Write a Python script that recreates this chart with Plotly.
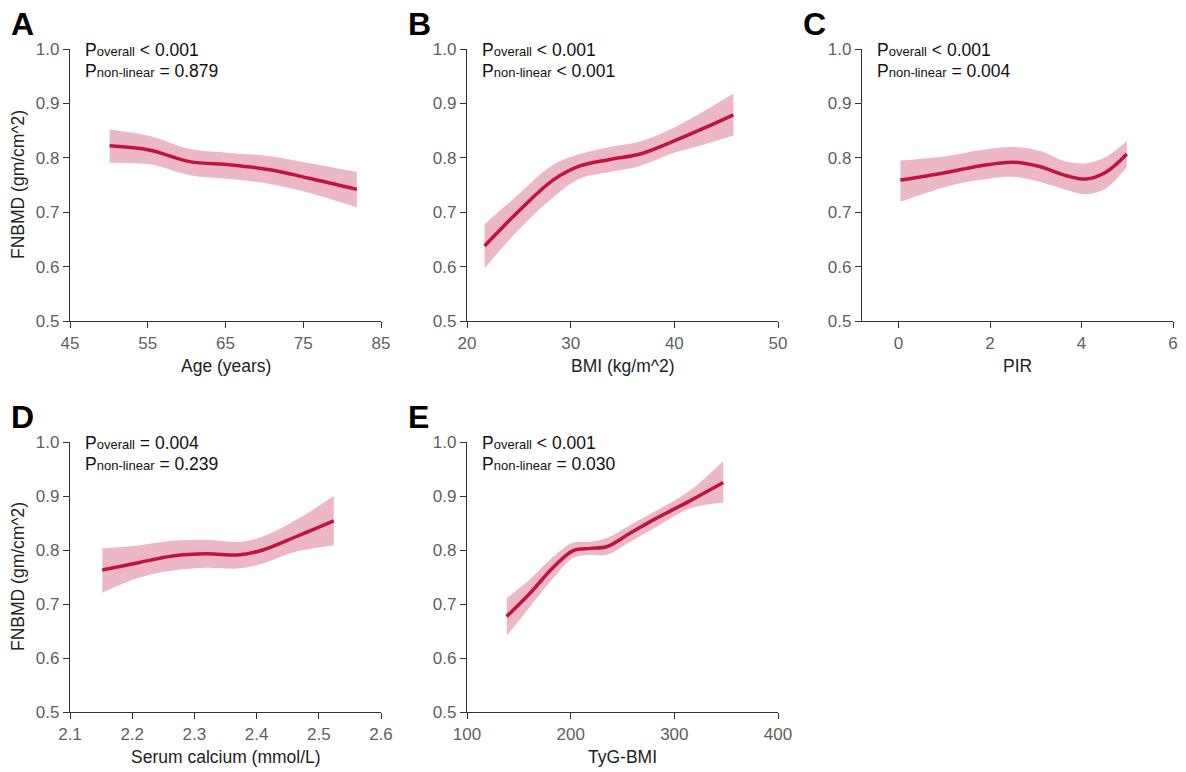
import plotly.graph_objects as go

W, H = 1186, 772

# ---------------- data ----------------
# Panel A: Age
age_x = [50.1, 55.3, 60.4, 65.6, 70.7, 75.9, 81.9]
age_fit = [0.822, 0.814, 0.793, 0.787, 0.778, 0.762, 0.742]
age_upper = [0.852, 0.840, 0.816, 0.809, 0.803, 0.790, 0.774]
age_lower = [0.791, 0.788, 0.768, 0.761, 0.752, 0.735, 0.709]

# Panel B: BMI
bmi_x = [21.7, 25.1, 28.3, 30.9, 33.8, 36.7, 39.6, 42.8, 45.7]
bmi_fit = [0.638, 0.704, 0.759, 0.785, 0.797, 0.807, 0.828, 0.854, 0.879]
bmi_upper = [0.678, 0.735, 0.787, 0.807, 0.820, 0.830, 0.852, 0.885, 0.918]
bmi_lower = [0.597, 0.670, 0.727, 0.762, 0.774, 0.785, 0.807, 0.824, 0.841]

# Panel C: PIR
pir_x = [0.04, 1.04, 1.77, 2.50, 3.08, 3.67, 4.10, 4.54, 4.99]
pir_fit = [0.759, 0.773, 0.785, 0.792, 0.784, 0.767, 0.761, 0.774, 0.807]
pir_upper = [0.795, 0.803, 0.814, 0.820, 0.813, 0.793, 0.790, 0.802, 0.831]
pir_lower = [0.719, 0.747, 0.759, 0.765, 0.756, 0.741, 0.733, 0.744, 0.783]

# Panel D: Serum calcium
ca_x = [2.152, 2.212, 2.265, 2.319, 2.373, 2.410, 2.464, 2.524]
ca_fit = [0.763, 0.777, 0.789, 0.793, 0.791, 0.800, 0.825, 0.854]
ca_upper = [0.803, 0.809, 0.817, 0.819, 0.815, 0.825, 0.856, 0.900]
ca_lower = [0.721, 0.749, 0.762, 0.767, 0.766, 0.775, 0.797, 0.809]

# Panel E: TyG-BMI
tyg_x = [138.3, 160.8, 183.3, 202.5, 218.6, 234.7, 257.2, 282.9, 315.0, 347.2]
tyg_fit = [0.677, 0.720, 0.768, 0.799, 0.803, 0.806, 0.831, 0.859, 0.891, 0.925]
tyg_upper = [0.711, 0.746, 0.788, 0.814, 0.815, 0.822, 0.846, 0.873, 0.910, 0.965]
tyg_lower = [0.641, 0.695, 0.748, 0.785, 0.791, 0.791, 0.815, 0.843, 0.877, 0.888]

panel_letters = ["A", "B", "C", "D", "E"]
x_titles = ["Age (years)", "BMI (kg/m^2)", "PIR", "Serum calcium (mmol/L)", "TyG-BMI"]
y_title = "FNBMD (gm/cm^2)"
p_overall = ["&lt; 0.001", "&lt; 0.001", "&lt; 0.001", "= 0.004", "&lt; 0.001"]
p_nonlinear = ["= 0.879", "&lt; 0.001", "= 0.004", "= 0.239", "= 0.030"]

x_ranges = [[45, 85], [20, 50], [-0.8, 6], [2.1, 2.6], [100, 400]]
x_ticks = [[45, 55, 65, 75, 85], [20, 30, 40, 50], [0, 2, 4, 6],
           [2.1, 2.2, 2.3, 2.4, 2.5, 2.6], [100, 200, 300, 400]]
y_ticks = [0.5, 0.6, 0.7, 0.8, 0.9, 1.0]

series = [
    (age_x, age_fit, age_upper, age_lower),
    (bmi_x, bmi_fit, bmi_upper, bmi_lower),
    (pir_x, pir_fit, pir_upper, pir_lower),
    (ca_x, ca_fit, ca_upper, ca_lower),
    (tyg_x, tyg_fit, tyg_upper, tyg_lower),
]

# ---------------- layout geometry (pixels) ----------------
col_px = [(70, 381), (467, 778), (862, 1173)]
row_px = [(49, 321), (442, 712)]
panel_pos = [(0, 0), (0, 1), (0, 2), (1, 0), (1, 1)]


def fx(px):
    return px / W


def fy(py):
    return 1 - py / H


LINE_COLOR = "#C0143F"
BAND_COLOR = "rgba(192,20,63,0.30)"
FONT = "Arial, Liberation Sans, sans-serif"

fig = go.Figure()
layout = dict(
    width=W, height=H,
    margin=dict(l=0, r=0, t=0, b=0),
    template="none",
    paper_bgcolor="white", plot_bgcolor="white",
    showlegend=False,
    font=dict(family=FONT, size=17, color="#222"),
)
annotations = []

for i, (xs, fit, up, lo) in enumerate(series):
    r, c = panel_pos[i]
    n = i + 1
    xa = "x" if n == 1 else f"x{n}"
    ya = "y" if n == 1 else f"y{n}"
    fig.add_trace(go.Scatter(x=xs, y=up, mode="lines", line=dict(width=0, shape="spline", color=BAND_COLOR),
                             xaxis=xa, yaxis=ya, hoverinfo="skip"))
    fig.add_trace(go.Scatter(x=xs, y=lo, mode="lines", line=dict(width=0, shape="spline", color=BAND_COLOR),
                             fill="tonexty", fillcolor=BAND_COLOR, xaxis=xa, yaxis=ya, hoverinfo="skip"))
    fig.add_trace(go.Scatter(x=xs, y=fit, mode="lines", line=dict(width=3.5, shape="spline", color=LINE_COLOR),
                             xaxis=xa, yaxis=ya))

    x0, x1 = col_px[c]
    y0, y1 = row_px[r]
    common = dict(showline=True, linecolor="#333", linewidth=1.3, ticks="outside", ticklen=6,
                  tickwidth=1.2, tickcolor="#333", showgrid=False, zeroline=False,
                  tickfont=dict(family=FONT, size=17, color="#5f5f5f"))
    layout["xaxis" if n == 1 else f"xaxis{n}"] = dict(
        domain=[fx(x0), fx(x1)], anchor=ya, range=x_ranges[i], tickvals=x_ticks[i],
        **common)
    layout["yaxis" if n == 1 else f"yaxis{n}"] = dict(
        domain=[fy(y1), fy(y0)], anchor=xa, range=[0.5, 1.0], tickvals=y_ticks,
        tickformat=".1f", **common)

    # panel letter
    annotations.append(dict(text=f"<b>{panel_letters[i]}</b>", x=fx(x0 - 61), y=fy(y0 - 25),
                            xref="paper", yref="paper", xanchor="left", yanchor="middle",
                            showarrow=False, font=dict(family=FONT, size=32, color="#000")))
    # p values
    annotations.append(dict(text=f"P<span style='font-size:13px'>overall</span> {p_overall[i]}",
                            x=fx(x0 + 13), y=fy(y0 + 1), xref="paper", yref="paper",
                            xanchor="left", yanchor="middle", showarrow=False,
                            font=dict(family=FONT, size=17.5, color="#111")))
    annotations.append(dict(text=f"P<span style='font-size:13px'>non-linear</span> {p_nonlinear[i]}",
                            x=fx(x0 + 13), y=fy(y0 + 22), xref="paper", yref="paper",
                            xanchor="left", yanchor="middle", showarrow=False,
                            font=dict(family=FONT, size=17.5, color="#111")))
    # x title
    annotations.append(dict(text=x_titles[i], x=fx((x0 + x1) / 2), y=fy(y1 + 45),
                            xref="paper", yref="paper", xanchor="center", yanchor="middle",
                            showarrow=False, font=dict(family=FONT, size=17.5, color="#222")))
    # y title on first column
    if c == 0:
        annotations.append(dict(text=y_title, x=fx(18), y=fy((y0 + y1) / 2), textangle=-90,
                                xref="paper", yref="paper", xanchor="center", yanchor="middle",
                                showarrow=False, font=dict(family=FONT, size=17.5, color="#222")))

layout["annotations"] = annotations
fig.update_layout(**layout)

fig.write_html("out.html", config={"displayModeBar": False},
               post_script="document.body.style.margin='0';")
